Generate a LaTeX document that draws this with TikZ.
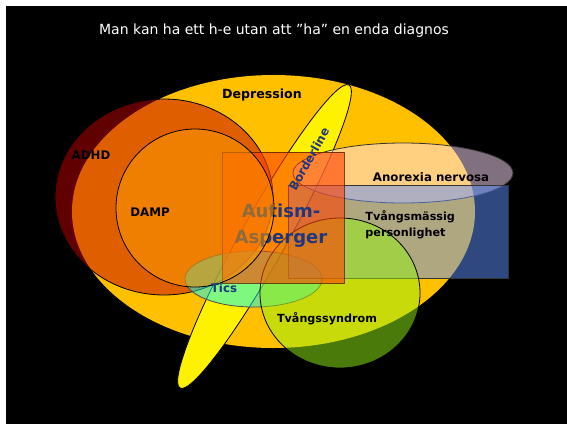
\documentclass[tikz,border=0pt]{standalone}
\usepackage{fontspec}
\setmainfont{DejaVu Sans}
\definecolor{deprcol}{RGB}{255,192,0}
\definecolor{adhdcol}{RGB}{192,0,0}
\definecolor{dampcol}{RGB}{255,159,0}
\definecolor{ticscol}{RGB}{0,255,255}
\definecolor{anocol}{RGB}{255,224,255}
\definecolor{tvmcol}{RGB}{96,144,255}
\definecolor{tvscol}{RGB}{148,244,20}
\definecolor{autcol}{RGB}{255,64,0}
\definecolor{autline}{RGB}{90,30,0}
\definecolor{dblue}{RGB}{30,55,128}
\tikzset{
  lbl/.style={inner sep=0pt, font=\fontsize{11.8}{14}\selectfont\bfseries, text=black},
  ttl/.style={inner sep=0pt, font=\fontsize{14}{17}\selectfont, text=white},
  bigl/.style={inner sep=0pt, font=\fontsize{18}{26}\selectfont\bfseries, text=dblue, align=center},
}
\begin{document}
\begin{tikzpicture}[x=1pt,y=-1pt,line width=0.8pt]
\useasboundingbox (0,0) rectangle (567,424);
\fill[white] (0,0) rectangle (567,424);
\fill[black] (6,6) rectangle (567,424);
% Depression
\fill[deprcol] (273.5,211.5) ellipse [x radius=201.5, y radius=136.5];
% Borderline
\filldraw[fill=yellow, draw=black, rotate around={60.85:(264.5,236.5)}] (264.5,236.5) ellipse [x radius=173.5, y radius=23];
% ADHD
\filldraw[fill=adhdcol, fill opacity=0.5, draw=black] (164,197) ellipse [x radius=109, y radius=98];
% Tics
\filldraw[fill=ticscol, fill opacity=0.5, draw=black!70] (253.5,279) ellipse [x radius=68.5, y radius=28];
% Anorexia
\filldraw[fill=anocol, fill opacity=0.5, draw=black!80] (403,173) ellipse [x radius=110, y radius=30];
% Tvangsmassig box
\filldraw[fill=tvmcol, fill opacity=0.5, draw=black!80] (288,185) rectangle (508,278);
% Tvangssyndrom
\filldraw[fill=tvscol, fill opacity=0.5, draw=black] (340,293) ellipse [x radius=80, y radius=75];
% Autism box
\filldraw[fill=autcol, fill opacity=0.6, draw=autline, draw opacity=0.8] (222,152) rectangle (344,283);
\node[bigl] (aut) at (281,226) {Autism-\\Asperger};
% DAMP
\filldraw[fill=dampcol, fill opacity=0.5, draw=black] (195,208) circle [radius=79];
% labels
\node[ttl] (title) at (274,31) {Man kan ha ett h-e utan att ”ha” en enda diagnos};
\node[lbl, font=\fontsize{12.6}{15}\selectfont\bfseries] (dep) at (262,95) {Depression};
\node[lbl] (adhd) at (91,155) {ADHD};
\node[lbl] (damp) at (150,212) {DAMP};
\node[lbl, text=dblue, rotate=60.85] (bord) at (309,159) {Borderline};
\node[lbl] (ano) at (431,177) {Anorexia nervosa};
\node[lbl, align=left, anchor=west, font=\fontsize{11.2}{16}\selectfont\bfseries] (tvm) at (365,225) {Tvångsmässig\\personlighet};
\node[lbl, text=dblue] (tics) at (224,288) {Tics};
\node[lbl, font=\fontsize{11.2}{14}\selectfont\bfseries] (tvs) at (327,319) {Tvångssyndrom};
\end{tikzpicture}
\end{document}
